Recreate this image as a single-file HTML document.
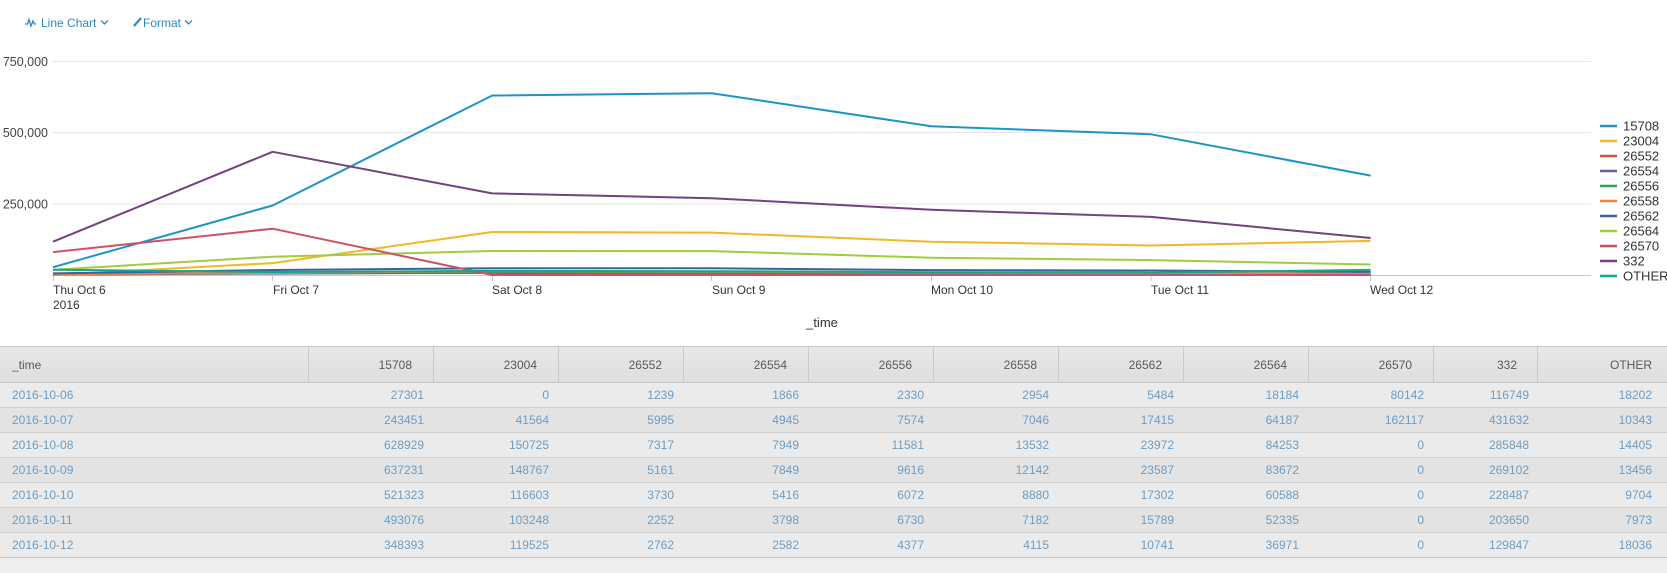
<!DOCTYPE html>
<html>
<head>
<meta charset="utf-8">
<style>
  html,body{margin:0;padding:0;background:#fff;}
  body{width:1667px;height:573px;position:relative;overflow:hidden;font-family:"Liberation Sans",Arial,sans-serif;}
  .tb{position:absolute;font-size:12px;color:#2a87c4;top:15px;height:16px;line-height:16px;white-space:nowrap;}
  svg{position:absolute;left:0;top:0;}
  .tbl{position:absolute;left:0;top:346px;width:1667px;}
  .hdr{position:absolute;left:0;top:0;width:1667px;height:37px;background:linear-gradient(#e7e7e7,#dedede);border-top:1px solid #c8c8c8;border-bottom:1px solid #c6c6c6;box-sizing:border-box;}
  .row{position:absolute;left:0;width:1667px;height:25px;border-bottom:1px solid #d2d2d2;box-sizing:border-box;}
  .c{position:absolute;font-size:12px;white-space:nowrap;}
  .h{color:#5a5a5a;top:11px;}
  .d{color:#6e9dc3;top:5px;}
  .vd{position:absolute;top:0;width:1px;height:36px;background:#c9c9c9;}
</style>
</head>
<body>
<div style="position:absolute;left:0;top:558px;width:1667px;height:15px;background:#eeeeee;"></div>

<svg width="1667" height="573" viewBox="0 0 1667 573" style="pointer-events:none">
  <!-- toolbar icons -->
  <polyline points="25,24 27.5,24 29,19.5 31,26 33,21 34.5,24 36,24" fill="none" stroke="#2a87c4" stroke-width="1.3"/>
  <polyline points="101,20.5 104.5,24 108,20.5" fill="none" stroke="#2a87c4" stroke-width="1.3"/>
  <line x1="134" y1="26" x2="141" y2="18" stroke="#2a87c4" stroke-width="2.2"/>
  <polyline points="185,20.5 188.5,24 192,20.5" fill="none" stroke="#2a87c4" stroke-width="1.3"/>

  <!-- gridlines -->
  <g stroke="#e6e6e6" stroke-width="1">
    <line x1="52" y1="61.5" x2="1591" y2="61.5"/>
    <line x1="52" y1="132.5" x2="1591" y2="132.5"/>
    <line x1="52" y1="204" x2="1591" y2="204"/>
  </g>
  <!-- y labels -->
  <g font-family="Liberation Sans, Arial, sans-serif" font-size="12.5" fill="#444" text-anchor="end">
    <text x="48" y="66">750,000</text>
    <text x="48" y="137">500,000</text>
    <text x="48" y="208.5">250,000</text>
  </g>
  <!-- x axis -->
  <line x1="52" y1="275.5" x2="1591" y2="275.5" stroke="#c8c8c8" stroke-width="1"/>
  <g stroke="#c8c8c8" stroke-width="1">
    <line x1="53.5" y1="275" x2="53.5" y2="281"/>
    <line x1="272.5" y1="275" x2="272.5" y2="281"/>
    <line x1="492.5" y1="275" x2="492.5" y2="281"/>
    <line x1="711.5" y1="275" x2="711.5" y2="281"/>
    <line x1="931.5" y1="275" x2="931.5" y2="281"/>
    <line x1="1151" y1="275" x2="1151" y2="281"/>
    <line x1="1370.5" y1="275" x2="1370.5" y2="281"/>
  </g>
  <g font-family="Liberation Sans, Arial, sans-serif" font-size="12" fill="#333">
    <text x="53" y="294">Thu Oct 6</text>
    <text x="53" y="309">2016</text>
    <text x="273" y="294">Fri Oct 7</text>
    <text x="492" y="294">Sat Oct 8</text>
    <text x="712" y="294">Sun Oct 9</text>
    <text x="931" y="294">Mon Oct 10</text>
    <text x="1151" y="294">Tue Oct 11</text>
    <text x="1370" y="294">Wed Oct 12</text>
  </g>
  <text x="822" y="327" font-family="Liberation Sans, Arial, sans-serif" font-size="13" fill="#333" text-anchor="middle">_time</text>

  <!-- series -->
  <g fill="none" stroke-width="2" stroke-linejoin="round">
    <polyline stroke="#1e93c6" points="53,267.2 272.6,205.5 492.2,95.5 711.8,93.2 931.4,126.3 1151,134.3 1370.6,175.6"/>
    <polyline stroke="#f2b827" points="53,275 272.6,263.1 492.2,232.0 711.8,232.6 931.4,241.7 1151,245.5 1370.6,240.9"/>
    <polyline stroke="#d6563c" points="53,274.6 272.6,273.3 492.2,272.9 711.8,273.5 931.4,273.9 1151,274.4 1370.6,274.2"/>
    <polyline stroke="#6a5c9e" points="53,274.5 272.6,273.6 492.2,272.7 711.8,272.8 931.4,273.5 1151,273.9 1370.6,274.3"/>
    <polyline stroke="#31a35f" points="53,274.3 272.6,272.8 492.2,271.7 711.8,272.3 931.4,273.3 1151,273.1 1370.6,273.8"/>
    <polyline stroke="#ed8440" points="53,274.2 272.6,273.0 492.2,271.1 711.8,271.5 931.4,272.5 1151,273.0 1370.6,273.8"/>
    <polyline stroke="#3863a0" points="53,273.4 272.6,270.0 492.2,268.2 711.8,268.3 931.4,270.1 1151,270.5 1370.6,271.9"/>
    <polyline stroke="#a2cc3e" points="53,269.8 272.6,256.7 492.2,251.0 711.8,251.1 931.4,257.7 1151,260.1 1370.6,264.5"/>
    <polyline stroke="#cc5068" points="53,252.1 272.6,228.7 492.2,275 711.8,275 931.4,275 1151,275 1370.6,275"/>
    <polyline stroke="#73427f" points="53,241.7 272.6,151.8 492.2,193.4 711.8,198.2 931.4,209.8 1151,216.9 1370.6,238.0"/>
    <polyline stroke="#11a88b" points="53,269.8 272.6,272.0 492.2,270.9 711.8,271.2 931.4,272.2 1151,272.7 1370.6,269.9"/>
  </g>

  <!-- legend -->
  <g stroke-width="2.5">
    <line x1="1600" y1="126" x2="1617" y2="126" stroke="#1e93c6"/>
    <line x1="1600" y1="141" x2="1617" y2="141" stroke="#f2b827"/>
    <line x1="1600" y1="156" x2="1617" y2="156" stroke="#d6563c"/>
    <line x1="1600" y1="171" x2="1617" y2="171" stroke="#6a5c9e"/>
    <line x1="1600" y1="186" x2="1617" y2="186" stroke="#31a35f"/>
    <line x1="1600" y1="201" x2="1617" y2="201" stroke="#ed8440"/>
    <line x1="1600" y1="216" x2="1617" y2="216" stroke="#3863a0"/>
    <line x1="1600" y1="231" x2="1617" y2="231" stroke="#a2cc3e"/>
    <line x1="1600" y1="246" x2="1617" y2="246" stroke="#cc5068"/>
    <line x1="1600" y1="261" x2="1617" y2="261" stroke="#73427f"/>
    <line x1="1600" y1="276" x2="1617" y2="276" stroke="#11a88b"/>
  </g>
  <g font-family="Liberation Sans, Arial, sans-serif" font-size="13" fill="#333">
    <text x="1623" y="130.5">15708</text>
    <text x="1623" y="145.5">23004</text>
    <text x="1623" y="160.5">26552</text>
    <text x="1623" y="175.5">26554</text>
    <text x="1623" y="190.5">26556</text>
    <text x="1623" y="205.5">26558</text>
    <text x="1623" y="220.5">26562</text>
    <text x="1623" y="235.5">26564</text>
    <text x="1623" y="250.5">26570</text>
    <text x="1623" y="265.5">332</text>
    <text x="1623" y="280.5">OTHER</text>
  </g>
</svg>

<div class="tb" style="left:41px;">Line Chart</div>
<div class="tb" style="left:143px;">Format</div>

<!-- table -->
<div class="tbl">
  <div class="hdr">
    <div class="c h" style="left:12px;">_time</div>
    <div class="vd" style="left:308px"></div>
    <div class="vd" style="left:433px"></div>
    <div class="vd" style="left:558px"></div>
    <div class="vd" style="left:683px"></div>
    <div class="vd" style="left:808px"></div>
    <div class="vd" style="left:933px"></div>
    <div class="vd" style="left:1058px"></div>
    <div class="vd" style="left:1183px"></div>
    <div class="vd" style="left:1308px"></div>
    <div class="vd" style="left:1433px"></div>
    <div class="vd" style="left:1537px"></div>
    <div class="c h" style="right:1255px;">15708</div>
    <div class="c h" style="right:1130px;">23004</div>
    <div class="c h" style="right:1005px;">26552</div>
    <div class="c h" style="right:880px;">26554</div>
    <div class="c h" style="right:755px;">26556</div>
    <div class="c h" style="right:630px;">26558</div>
    <div class="c h" style="right:505px;">26562</div>
    <div class="c h" style="right:380px;">26564</div>
    <div class="c h" style="right:255px;">26570</div>
    <div class="c h" style="right:150px;">332</div>
    <div class="c h" style="right:15px;">OTHER</div>
  </div>

  <div class="row" style="top:37px;background:#ebebeb;">
    <div class="c d" style="left:12px;">2016-10-06</div>
    <div class="c d" style="right:1243px;">27301</div>
    <div class="c d" style="right:1118px;">0</div>
    <div class="c d" style="right:993px;">1239</div>
    <div class="c d" style="right:868px;">1866</div>
    <div class="c d" style="right:743px;">2330</div>
    <div class="c d" style="right:618px;">2954</div>
    <div class="c d" style="right:493px;">5484</div>
    <div class="c d" style="right:368px;">18184</div>
    <div class="c d" style="right:243px;">80142</div>
    <div class="c d" style="right:138px;">116749</div>
    <div class="c d" style="right:15px;">18202</div>
  </div>
  <div class="row" style="top:62px;background:#e3e3e3;">
    <div class="c d" style="left:12px;">2016-10-07</div>
    <div class="c d" style="right:1243px;">243451</div>
    <div class="c d" style="right:1118px;">41564</div>
    <div class="c d" style="right:993px;">5995</div>
    <div class="c d" style="right:868px;">4945</div>
    <div class="c d" style="right:743px;">7574</div>
    <div class="c d" style="right:618px;">7046</div>
    <div class="c d" style="right:493px;">17415</div>
    <div class="c d" style="right:368px;">64187</div>
    <div class="c d" style="right:243px;">162117</div>
    <div class="c d" style="right:138px;">431632</div>
    <div class="c d" style="right:15px;">10343</div>
  </div>
  <div class="row" style="top:87px;background:#ebebeb;">
    <div class="c d" style="left:12px;">2016-10-08</div>
    <div class="c d" style="right:1243px;">628929</div>
    <div class="c d" style="right:1118px;">150725</div>
    <div class="c d" style="right:993px;">7317</div>
    <div class="c d" style="right:868px;">7949</div>
    <div class="c d" style="right:743px;">11581</div>
    <div class="c d" style="right:618px;">13532</div>
    <div class="c d" style="right:493px;">23972</div>
    <div class="c d" style="right:368px;">84253</div>
    <div class="c d" style="right:243px;">0</div>
    <div class="c d" style="right:138px;">285848</div>
    <div class="c d" style="right:15px;">14405</div>
  </div>
  <div class="row" style="top:112px;background:#e3e3e3;">
    <div class="c d" style="left:12px;">2016-10-09</div>
    <div class="c d" style="right:1243px;">637231</div>
    <div class="c d" style="right:1118px;">148767</div>
    <div class="c d" style="right:993px;">5161</div>
    <div class="c d" style="right:868px;">7849</div>
    <div class="c d" style="right:743px;">9616</div>
    <div class="c d" style="right:618px;">12142</div>
    <div class="c d" style="right:493px;">23587</div>
    <div class="c d" style="right:368px;">83672</div>
    <div class="c d" style="right:243px;">0</div>
    <div class="c d" style="right:138px;">269102</div>
    <div class="c d" style="right:15px;">13456</div>
  </div>
  <div class="row" style="top:137px;background:#ebebeb;">
    <div class="c d" style="left:12px;">2016-10-10</div>
    <div class="c d" style="right:1243px;">521323</div>
    <div class="c d" style="right:1118px;">116603</div>
    <div class="c d" style="right:993px;">3730</div>
    <div class="c d" style="right:868px;">5416</div>
    <div class="c d" style="right:743px;">6072</div>
    <div class="c d" style="right:618px;">8880</div>
    <div class="c d" style="right:493px;">17302</div>
    <div class="c d" style="right:368px;">60588</div>
    <div class="c d" style="right:243px;">0</div>
    <div class="c d" style="right:138px;">228487</div>
    <div class="c d" style="right:15px;">9704</div>
  </div>
  <div class="row" style="top:162px;background:#e3e3e3;">
    <div class="c d" style="left:12px;">2016-10-11</div>
    <div class="c d" style="right:1243px;">493076</div>
    <div class="c d" style="right:1118px;">103248</div>
    <div class="c d" style="right:993px;">2252</div>
    <div class="c d" style="right:868px;">3798</div>
    <div class="c d" style="right:743px;">6730</div>
    <div class="c d" style="right:618px;">7182</div>
    <div class="c d" style="right:493px;">15789</div>
    <div class="c d" style="right:368px;">52335</div>
    <div class="c d" style="right:243px;">0</div>
    <div class="c d" style="right:138px;">203650</div>
    <div class="c d" style="right:15px;">7973</div>
  </div>
  <div class="row" style="top:187px;background:#ebebeb;border-bottom:1px solid #c8c8c8;">
    <div class="c d" style="left:12px;">2016-10-12</div>
    <div class="c d" style="right:1243px;">348393</div>
    <div class="c d" style="right:1118px;">119525</div>
    <div class="c d" style="right:993px;">2762</div>
    <div class="c d" style="right:868px;">2582</div>
    <div class="c d" style="right:743px;">4377</div>
    <div class="c d" style="right:618px;">4115</div>
    <div class="c d" style="right:493px;">10741</div>
    <div class="c d" style="right:368px;">36971</div>
    <div class="c d" style="right:243px;">0</div>
    <div class="c d" style="right:138px;">129847</div>
    <div class="c d" style="right:15px;">18036</div>
  </div>
</div>
</body>
</html>
